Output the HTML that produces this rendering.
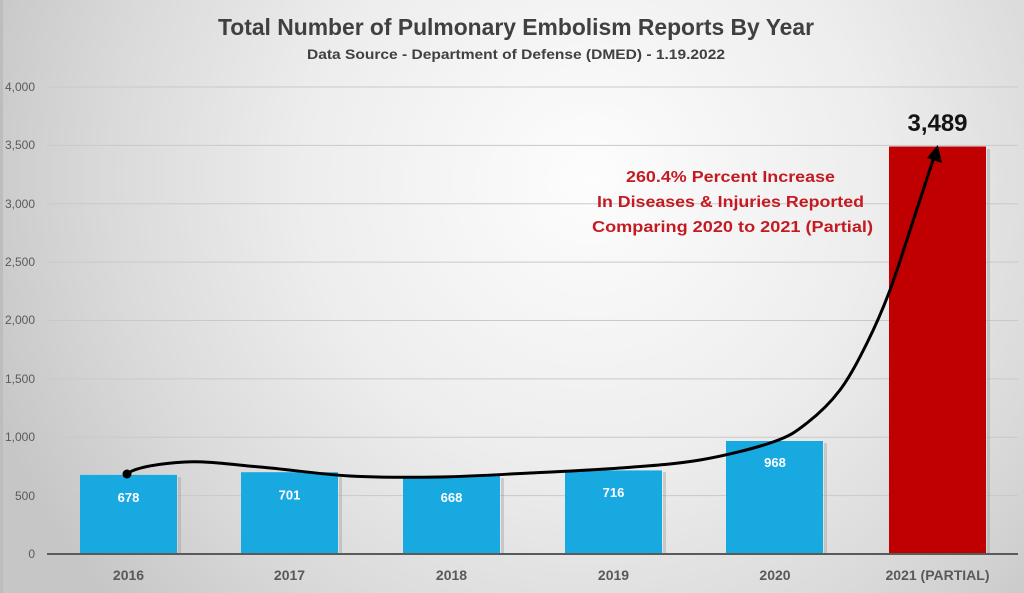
<!DOCTYPE html>
<html><head><meta charset="utf-8"><style>
html,body{margin:0;padding:0;width:1024px;height:593px;overflow:hidden;background:#ddd}
svg{display:block}
</style></head><body>
<svg width="1024" height="593" viewBox="0 0 1024 593" xmlns="http://www.w3.org/2000/svg" font-family="'Liberation Sans', sans-serif">
<defs>
<radialGradient id="bg" gradientUnits="userSpaceOnUse" cx="590" cy="180" r="640">
<stop offset="0" stop-color="#fdfdfd"/>
<stop offset="0.45" stop-color="#ededed"/>
<stop offset="0.75" stop-color="#dadada"/>
<stop offset="1" stop-color="#c6c6c6"/>
</radialGradient>
</defs>
<rect width="1024" height="593" fill="url(#bg)"/>
<rect x="0" y="0" width="3" height="593" fill="#bdbdbd"/>

<!-- gridlines -->
<g stroke="#c9c9c9" stroke-width="1">
<line x1="47" x2="1018" y1="495.6" y2="495.6"/>
<line x1="47" x2="1018" y1="437.3" y2="437.3"/>
<line x1="47" x2="1018" y1="378.9" y2="378.9"/>
<line x1="47" x2="1018" y1="320.5" y2="320.5"/>
<line x1="47" x2="1018" y1="262.1" y2="262.1"/>
<line x1="47" x2="1018" y1="203.8" y2="203.8"/>
<line x1="47" x2="1018" y1="145.4" y2="145.4"/>
<line x1="47" x2="1018" y1="87" y2="87"/>
</g>

<!-- y labels -->
<g fill="#5a5a5a" font-size="12" text-anchor="end">
<text x="35" y="558">0</text>
<text x="35" y="500">500</text>
<text x="35" y="441">1,000</text>
<text x="35" y="383">1,500</text>
<text x="35" y="324">2,000</text>
<text x="35" y="266">2,500</text>
<text x="35" y="208">3,000</text>
<text x="35" y="149">3,500</text>
<text x="35" y="91">4,000</text>
</g>

<!-- bar shadows -->
<g fill="#9a9a9a" opacity="0.4">
<rect x="178" y="477" width="3" height="77"/>
<rect x="339" y="474" width="3" height="80"/>
<rect x="501" y="478" width="3" height="76"/>
<rect x="663" y="472" width="3" height="82"/>
<rect x="824" y="443" width="3" height="111"/>
<rect x="987" y="149" width="3" height="405"/>
</g>
<!-- bars -->
<g fill="#19a9e1">
<rect x="80" y="474.9" width="97" height="79.1"/>
<rect x="241" y="472.2" width="97" height="81.8"/>
<rect x="403" y="476" width="97" height="78"/>
<rect x="565" y="470.4" width="97" height="83.6"/>
<rect x="726" y="441" width="97" height="113"/>
</g>
<rect x="889" y="146.5" width="97" height="407.5" fill="#c00000"/>

<!-- axis line -->
<line x1="47" x2="1018" y1="554" y2="554" stroke="#5a5a5a" stroke-width="2"/>

<!-- value labels -->
<g fill="#ffffff" font-size="13" font-weight="bold" text-anchor="middle">
<text x="128.5" y="502">678</text>
<text x="289.5" y="499.5">701</text>
<text x="451.5" y="502">668</text>
<text x="613.5" y="497">716</text>
<text x="775" y="467">968</text>
</g>
<text x="937.5" y="131" font-size="24" font-weight="bold" fill="#141414" text-anchor="middle">3,489</text>

<!-- x labels -->
<g fill="#595959" font-size="14" font-weight="bold" text-anchor="middle">
<text x="128.5" y="580">2016</text>
<text x="289.5" y="580">2017</text>
<text x="451.5" y="580">2018</text>
<text x="613.5" y="580">2019</text>
<text x="775" y="580">2020</text>
<text x="937.5" y="580" textLength="104" lengthAdjust="spacingAndGlyphs">2021 (PARTIAL)</text>
</g>

<!-- titles -->
<text x="516" y="35" font-size="23" font-weight="bold" fill="#404040" text-anchor="middle" textLength="596" lengthAdjust="spacingAndGlyphs">Total Number of Pulmonary Embolism Reports By Year</text>
<text x="516" y="59" font-size="14" font-weight="bold" fill="#404040" text-anchor="middle" textLength="418" lengthAdjust="spacingAndGlyphs">Data Source - Department of Defense (DMED) - 1.19.2022</text>

<!-- annotation -->
<g fill="#c41a22" font-size="16" font-weight="bold" text-anchor="middle">
<text x="730.5" y="182" textLength="209" lengthAdjust="spacingAndGlyphs">260.4% Percent Increase</text>
<text x="730.5" y="207" textLength="267" lengthAdjust="spacingAndGlyphs">In Diseases &amp; Injuries Reported</text>
<text x="732.5" y="232" textLength="281" lengthAdjust="spacingAndGlyphs">Comparing 2020 to 2021 (Partial)</text>
</g>

<!-- curve -->
<path d="M127,474 C135,467 162.8,463.2 185,462 C207.2,460.8 232.5,464.7 260,467 C287.5,469.3 320,474.3 350,476 C380,477.7 410,477.5 440,477 C470,476.5 500,474.5 530,473 C560,471.5 591.7,470.2 620,468 C648.3,465.8 674.5,464.3 700,460 C725.5,455.7 755.2,448.2 773,442 C790.8,435.8 795.8,431.7 807,423 C818.2,414.3 830,403.3 840,390 C850,376.7 858.7,359.7 867,343 C875.3,326.3 882,311.3 890,290 C898,268.7 907.3,238.3 915,215 C922.7,191.7 930.8,166.7 934,157" fill="none" stroke="#000" stroke-width="3" stroke-linecap="round" stroke-linejoin="round"/>
<polygon points="937.7,145 942,163 927,158" fill="#000"/>
<circle cx="127" cy="474" r="4.5" fill="#000"/>
</svg>
</body></html>
